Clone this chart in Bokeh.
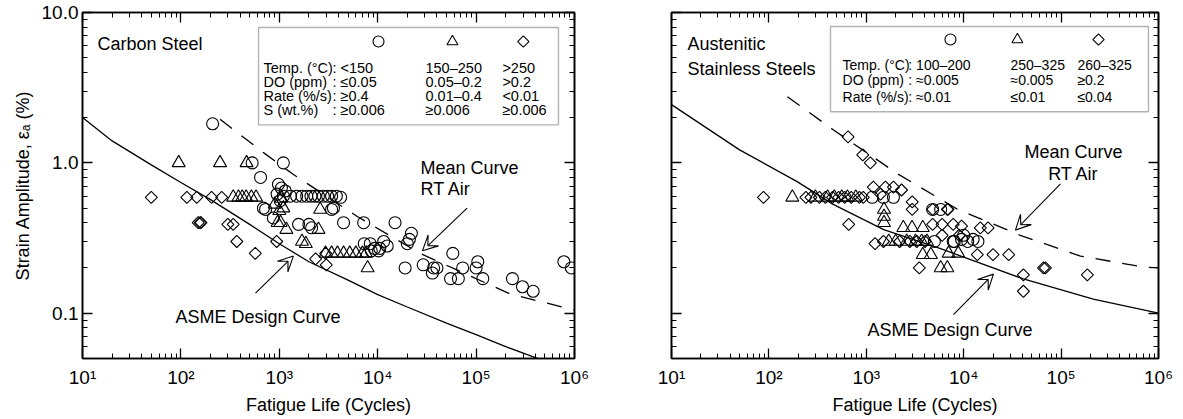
from bokeh.plotting import figure
from bokeh.models import (FixedTicker, LogAxis, Label, Arrow, VeeHead, BoxAnnotation,
                          Range1d, ColumnDataSource)
from bokeh.layouts import row
from bokeh.embed import file_html
from bokeh.resources import INLINE

FONT = "Liberation Sans"

# ---------------- axis ticks ----------------
x_major = [10, 100, 1000, 10000, 100000, 1000000]
x_labels = ["10¹", "10²", "10³", "10⁴", "10⁵", "10⁶"]
y_major = [0.1, 1.0, 10.0]
y_labels = ["0.1", "1.0", "10.0"]

# ---------------- Carbon steel ----------------
cs_design_N = [10, 20, 50, 100, 200, 500, 1000, 2000, 5000, 1e4, 2e4, 5e4, 1e5, 2e5, 5e5]
cs_design_e = [2.0, 1.40, 0.97, 0.74, 0.57, 0.39, 0.29, 0.22, 0.166, 0.133, 0.11, 0.086, 0.072, 0.060, 0.048]
cs_mean_N = [250, 690, 1380, 6200, 27000, 224000, 1e6]
cs_mean_e = [1.95, 1.17, 0.84, 0.44, 0.25, 0.134, 0.105]

cs_circ_N = [210, 530, 1100, 645, 690, 725, 870, 980, 1050, 1150, 950, 1100, 1020,
             1300, 1500, 1700, 1900, 2100, 2300, 2500, 2800, 3100, 3400, 3800, 4200,
             3400, 3550, 1570, 2130, 2000, 4500, 7200, 15000, 22000, 20000, 21000,
             7300, 8400, 9300, 10500, 12500, 8600, 10200, 11500,
             19000, 29000, 36000, 37000, 40000, 58000, 55000, 66000, 73000, 104000,
             100000, 117000, 234000, 296000, 380000, 780000, 930000]
cs_circ_e = [1.82, 1.0, 1.0, 0.8, 0.5, 0.49, 0.43, 0.72, 0.68, 0.65, 0.62, 0.60, 0.56,
             0.6, 0.6, 0.6, 0.6, 0.6, 0.6, 0.6, 0.6, 0.6, 0.6, 0.6, 0.59,
             0.49, 0.5, 0.39, 0.37, 0.39, 0.4, 0.4, 0.4, 0.34, 0.29, 0.31,
             0.29, 0.29, 0.27, 0.27, 0.28, 0.26, 0.26, 0.3,
             0.2, 0.21, 0.185, 0.2, 0.2, 0.25, 0.17, 0.17, 0.2, 0.22,
             0.2, 0.17, 0.17, 0.15, 0.14, 0.22, 0.2]
cs_tri_N = [95, 250, 465, 340, 385, 420, 460, 520, 580, 900, 1000, 1100, 1050, 2600,
            960, 1030, 1180, 2500, 1860, 1700,
            2950, 3400, 3900, 4500, 5200, 6000, 7000, 7600, 7900]
cs_tri_e = [1.0, 1.0, 1.0, 0.59, 0.59, 0.59, 0.59, 0.59, 0.59, 0.53, 0.48, 0.5, 0.58, 0.49,
            0.4, 0.4, 0.36, 0.36, 0.29, 0.3,
            0.25, 0.25, 0.25, 0.25, 0.25, 0.25, 0.25, 0.25, 0.2]
cs_dia_N = [50, 115, 145, 205, 260, 150, 157, 160, 300, 340, 370, 570, 940, 2340, 2960, 3000]
cs_dia_e = [0.59, 0.59, 0.59, 0.59, 0.59, 0.4, 0.4, 0.4, 0.39, 0.39, 0.3, 0.25, 0.3, 0.23, 0.25, 0.21]

# ---------------- Austenitic stainless steels ----------------
ss_design_N = [10, 50, 195, 457, 1510, 5700, 1e4, 4.1e4, 2.14e5, 1e6]
ss_design_e = [2.44, 1.22, 0.75, 0.53, 0.36, 0.27, 0.236, 0.169, 0.124, 0.10]
ss_mean_N = [155, 457, 2100, 8700, 38000, 158000, 700000, 1e6]
ss_mean_e = [2.75, 1.66, 0.845, 0.49, 0.33, 0.24, 0.203, 0.2]

ss_circ_N = [1150, 1500, 1900, 4800, 5800, 7800, 8000, 9500, 11000, 12500, 14000, 10000, 5000]
ss_circ_e = [0.59, 0.59, 0.59, 0.49, 0.49, 0.3, 0.3, 0.31, 0.3, 0.31, 0.3, 0.33, 0.3]
ss_tri_N = [174, 300, 400, 470, 560, 640, 780, 1520, 1520, 1520, 2400, 2950, 3800,
            1700, 2000, 2600, 3200, 3700, 4200, 3800, 4600, 5800, 6800, 7000, 8800]
ss_tri_e = [0.59, 0.59, 0.59, 0.59, 0.59, 0.59, 0.59, 0.49, 0.44, 0.4, 0.37, 0.37, 0.37,
            0.3, 0.3, 0.3, 0.3, 0.3, 0.3, 0.245, 0.245, 0.2, 0.2, 0.25, 0.25]
ss_dia_N = [88, 240, 270, 330, 380, 450, 520, 600, 700, 850, 930,
            650, 920, 1100, 1180, 1570, 1900, 2300, 1400,
            660, 1230, 2960, 2960, 4800, 6900, 4800, 6000, 7800,
            1500, 2200, 2800, 3300, 4000, 3500,
            14800, 17800, 13800, 20000, 29000, 41000, 41000, 66000, 69000, 186000,
            6000, 9000, 9500, 6800]
ss_dia_e = [0.59, 0.59, 0.59, 0.59, 0.59, 0.59, 0.59, 0.59, 0.59, 0.59, 0.59,
            1.49, 1.13, 1.0, 0.69, 0.69, 0.69, 0.66, 0.62,
            0.39, 0.29, 0.55, 0.49, 0.49, 0.49, 0.39, 0.39, 0.39,
            0.3, 0.3, 0.3, 0.3, 0.3, 0.2,
            0.37, 0.37, 0.245, 0.245, 0.245, 0.18, 0.14, 0.2, 0.2, 0.18,
            0.33, 0.33, 0.38, 0.49]

# ---------------- legend texts ----------------
cs_leg_rows = ["Temp. (°C)", "DO (ppm)", "Rate (%/s)", "S (wt.%)"]
cs_leg_col1 = [": <150", ": ≤0.05", ": ≥0.4", ": ≥0.006"]
cs_leg_col2 = ["150–250", "0.05–0.2", "0.01–0.4", "≥0.006"]
cs_leg_col3 = [">250", ">0.2", "<0.01", "≥0.006"]

ss_leg_rows = ["Temp. (°C)", "DO (ppm)", "Rate (%/s)"]
ss_leg_col1 = [": 100–200", ": ≈0.005", ": ≈0.01"]
ss_leg_col2 = ["250–325", "≈0.005", "≤0.01"]
ss_leg_col3 = ["260–325", "≥0.2", "≤0.04"]


def minors(lo, hi):
    return [m * 10.0 ** e for e in range(lo, hi) for m in range(2, 10)]


def style_axis(ax, labels, show):
    ax.major_tick_in = 10
    ax.major_tick_out = 0
    ax.minor_tick_in = 5
    ax.minor_tick_out = 0
    ax.axis_line_width = 1.5
    ax.major_tick_line_width = 1.3
    ax.minor_tick_line_width = 1.0
    ax.major_label_text_font = FONT
    ax.major_label_text_color = "black"
    ax.axis_label_text_font = FONT
    ax.axis_label_text_font_style = "normal"
    ax.axis_label_text_font_size = "18px"
    ax.axis_label_text_color = "black"
    if show:
        ax.major_label_text_font_size = "19px"
        ax.major_label_overrides = labels
    else:
        ax.major_label_text_font_size = "1px"
        ax.major_label_overrides = {k: "" for k in labels}
        ax.major_label_standoff = 0


def make_panel(min_left, fw, min_right, ylabels):
    p = figure(x_axis_type="log", y_axis_type="log",
               x_range=Range1d(10, 1e6), y_range=Range1d(0.05, 10),
               frame_width=fw, frame_height=346,
               min_border_left=min_left, min_border_right=min_right,
               min_border_top=12, min_border_bottom=56,
               output_backend="svg", toolbar_location=None)
    p.grid.visible = False
    p.outline_line_color = "black"
    p.outline_line_width = 1.6
    p.background_fill_color = "white"
    p.border_fill_color = "white"
    xlab = dict(zip(x_major, x_labels))
    ylab = dict(zip(y_major, y_labels))
    p.xaxis[0].ticker = FixedTicker(ticks=x_major, minor_ticks=minors(1, 6))
    style_axis(p.xaxis[0], xlab, True)
    p.xaxis[0].major_label_standoff = 8
    p.xaxis[0].axis_label = "Fatigue Life (Cycles)"
    p.xaxis[0].axis_label_standoff = 4
    p.yaxis[0].ticker = FixedTicker(ticks=y_major,
                                    minor_ticks=[v for v in minors(-2, 1) if 0.05 <= v <= 10])
    style_axis(p.yaxis[0], ylab, ylabels)
    if ylabels:
        p.yaxis[0].major_label_standoff = 4
        p.yaxis[0].axis_label = "Strain Amplitude, εₐ (%)"
        p.yaxis[0].axis_label_standoff = 6
    top = LogAxis(ticker=FixedTicker(ticks=x_major, minor_ticks=minors(1, 6)))
    style_axis(top, xlab, False)
    p.add_layout(top, "above")
    right = LogAxis(ticker=FixedTicker(ticks=y_major,
                                       minor_ticks=[v for v in minors(-2, 1) if 0.05 <= v <= 10]))
    style_axis(right, ylab, False)
    p.add_layout(right, "right")
    return p


def add_series(p, dN, de, mN, me, cN, ce, tN, te, qN, qe):
    p.line(dN, de, line_color="black", line_width=1.3)
    p.line(mN, me, line_color="black", line_width=1.3, line_dash="15 12")
    p.scatter(cN, ce, marker="circle", size=12, fill_alpha=0, line_color="black", line_width=1.1)
    p.scatter(tN, te, marker="triangle", size=13, fill_alpha=0, line_color="black", line_width=1.1)
    p.scatter(qN, qe, marker="square", angle=0.785398, size=8.5, fill_alpha=0,
              line_color="black", line_width=1.1)


def lbl(p, x, y, text, size="18px", align="left"):
    p.add_layout(Label(x=x, y=y, text=text, text_font=FONT, text_font_size=size,
                       text_baseline="middle", text_align=align, text_color="black"))


def arrow(p, xs, ys, xe, ye):
    p.add_layout(Arrow(end=VeeHead(size=15, fill_color="white", line_color="black", line_width=1.1),
                       x_start=xs, y_start=ys, x_end=xe, y_end=ye,
                       line_color="black", line_width=1.1))


# ======== left panel ========
p1 = make_panel(82, 492, 30, True)
add_series(p1, cs_design_N, cs_design_e, cs_mean_N, cs_mean_e,
           cs_circ_N, cs_circ_e, cs_tri_N, cs_tri_e, cs_dia_N, cs_dia_e)
lbl(p1, 14.2, 6.2, "Carbon Steel")
lbl(p1, 27200, 0.93, "Mean Curve")
lbl(p1, 27200, 0.67, "RT Air")
arrow(p1, 81000, 0.50, 28500, 0.26)
lbl(p1, 88, 0.095, "ASME Design Curve")
arrow(p1, 573, 0.136, 1390, 0.24)
p1.add_layout(BoxAnnotation(left=615, right=687000, top=7.94, bottom=1.79,
                            fill_alpha=0, line_color="black", line_width=1.4))
cs_row_y = [4.30, 3.47, 2.80, 2.26]
leg1 = ColumnDataSource(dict(x=[10190, 57500, 302000], y=[6.41, 6.41, 6.41],
                             m=["circle", "triangle", "square"], a=[0, 0, 0.785398],
                             s=[11, 11, 8]))
p1.scatter("x", "y", marker="m", angle="a", size="s", source=leg1, fill_alpha=0,
           line_color="black", line_width=1.1)
for i in range(len(cs_leg_rows)):
    lbl(p1, 690, cs_row_y[i], cs_leg_rows[i], "14.5px")
    lbl(p1, 3470, cs_row_y[i], cs_leg_col1[i], "14.5px")
    lbl(p1, 30600, cs_row_y[i], cs_leg_col2[i], "14.5px")
    lbl(p1, 185000, cs_row_y[i], cs_leg_col3[i], "14.5px")

# ======== right panel ========
p2 = make_panel(67, 487, 15, False)
add_series(p2, ss_design_N, ss_design_e, ss_mean_N, ss_mean_e,
           ss_circ_N, ss_circ_e, ss_tri_N, ss_tri_e, ss_dia_N, ss_dia_e)
lbl(p2, 14.6, 6.2, "Austenitic")
lbl(p2, 14.6, 4.23, "Stainless Steels")
lbl(p2, 134000, 1.18, "Mean Curve", align="center")
lbl(p2, 134000, 0.845, "RT Air", align="center")
arrow(p2, 98600, 0.724, 34000, 0.357)
lbl(p2, 1030, 0.077, "ASME Design Curve")
arrow(p2, 7850, 0.098, 20200, 0.182)
p2.add_layout(BoxAnnotation(left=429, right=789000, top=8.07, bottom=2.19,
                            fill_alpha=0, line_color="black", line_width=1.4))
ss_row_y = [4.5, 3.58, 2.75]
leg2 = ColumnDataSource(dict(x=[7310, 35600, 242000], y=[6.61, 6.61, 6.61],
                             m=["circle", "triangle", "square"], a=[0, 0, 0.785398],
                             s=[11, 11, 8]))
p2.scatter("x", "y", marker="m", angle="a", size="s", source=leg2, fill_alpha=0,
           line_color="black", line_width=1.1)
for i in range(len(ss_leg_rows)):
    lbl(p2, 570, ss_row_y[i], ss_leg_rows[i], "14px")
    lbl(p2, 2700, ss_row_y[i], ss_leg_col1[i], "14px")
    lbl(p2, 30200, ss_row_y[i], ss_leg_col2[i], "14px")
    lbl(p2, 147000, ss_row_y[i], ss_leg_col3[i], "14px")

layout = row(p1, p2)
open("out.html", "w").write(file_html(layout, INLINE))
